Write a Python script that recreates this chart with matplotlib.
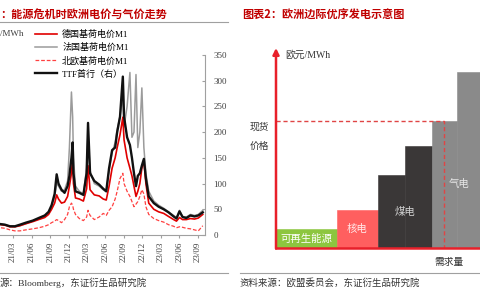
import matplotlib
matplotlib.use('Agg')
import matplotlib.pyplot as plt
import matplotlib.dates as mdates
import numpy as np
import pandas as pd

plt.rcParams['font.family'] = ['Liberation Serif', 'Noto Sans CJK SC']
CJK = ['Noto Sans CJK SC']

# ---- left panel: power and gas prices (EUR/MWh) ----
dates = pd.to_datetime([
    '2021-01-01', '2021-01-21', '2021-02-14', '2021-03-11', '2021-04-04', '2021-05-04', '2021-06-07', '2021-07-06', '2021-08-05', '2021-08-24',
    '2021-09-08', '2021-09-23', '2021-10-03', '2021-10-12', '2021-10-27', '2021-11-11', '2021-11-26', '2021-12-05', '2021-12-15', '2021-12-21',
    '2021-12-25', '2022-01-04', '2022-01-23', '2022-02-12', '2022-02-28', '2022-03-07', '2022-03-17', '2022-04-07', '2022-05-01', '2022-05-21',
    '2022-06-05', '2022-06-19', '2022-07-04', '2022-07-19', '2022-07-29', '2022-08-12', '2022-08-26', '2022-09-01', '2022-09-16', '2022-09-30',
    '2022-10-10', '2022-10-20', '2022-10-30', '2022-11-08', '2022-11-18', '2022-11-28', '2022-12-08', '2022-12-18', '2023-01-01', '2023-01-26',
    '2023-02-19', '2023-03-16', '2023-04-09', '2023-05-04', '2023-05-18', '2023-06-02', '2023-06-17', '2023-07-06', '2023-07-26', '2023-08-15',
    '2023-09-03', '2023-09-25'])

# TTF front month, right axis
ttf = [21, 20, 17, 17, 20, 24, 28, 33, 38, 45,
       58, 80, 118, 100, 88, 82, 95, 115, 150, 180,
       120, 85, 82, 78, 120, 218, 120, 105, 98, 90,
       85, 130, 165, 170, 200, 230, 308, 230, 190, 175,
       150, 120, 95, 115, 120, 135, 148, 110, 75, 62,
       55, 50, 44, 36, 32, 46, 35, 33, 38, 36,
       38, 44]

# base load M1, left axis
de_base = [80, 76, 64, 64, 72, 88, 104, 120, 136, 160,
           200, 248, 312, 280, 248, 256, 300, 380, 480, 600,
           400, 288, 280, 264, 360, 540, 352, 312, 304, 280,
           272, 380, 520, 600, 680, 780, 916, 740, 600, 520,
           460, 380, 300, 340, 400, 520, 580, 400, 248, 200,
           180, 168, 144, 120, 108, 136, 120, 120, 128, 124,
           132, 160]
fr_base = [88, 80, 68, 64, 72, 88, 108, 124, 144, 172,
           220, 300, 400, 380, 340, 352, 420, 680, 1112, 920,
           600, 380, 340, 320, 520, 800, 500, 400, 380, 352,
           336, 500, 640, 720, 820, 920, 1080, 840, 1000, 1264,
           760, 800, 1248, 680, 800, 1144, 680, 480, 340, 264,
           232, 208, 180, 152, 136, 192, 144, 140, 160, 152,
           160, 192]
nordic_base = [56, 52, 40, 32, 32, 40, 48, 56, 68, 80,
               96, 108, 120, 112, 96, 120, 160, 220, 248, 232,
               200, 160, 128, 112, 140, 192, 152, 120, 140, 168,
               152, 192, 220, 280, 340, 440, 480, 400, 340, 300,
               260, 220, 240, 260, 300, 352, 320, 220, 160, 128,
               112, 100, 80, 68, 56, 64, 60, 52, 48, 40,
               32, 72]

legend_labels = ['德国基荷电价M1', '法国基荷电价M1', '北欧基荷电价M1', 'TTF首行（右）']

# ---- right panel: merit order sketch ----
techs = ['可再生能源', '核电', '煤电', '煤电', '气电', '气电']
capacity = [61, 41, 27, 27, 25, 30]
marginal_cost = [19, 38, 73, 102, 127, 176]
demand = 168
spot_price = 127

tech_colors = {'可再生能源': '#8dc63f', '核电': '#ff5f5f', '煤电': '#3a3737', '气电': '#8a8a8a'}
tech_text = {'可再生能源': '#ffffff', '核电': '#ffe8e8', '煤电': '#d0d0d0', '气电': '#e6e6e6'}

W, H = 480, 300


def fx(px):
    return px / W


def fy(py):
    return 1 - py / H


fig = plt.figure(figsize=(4.8, 3.0), dpi=100)

# ---------------- left chart ----------------
ax = fig.add_axes([0, fy(235), 205 / W, 180 / H])
l_fr, = ax.plot(dates, fr_base, color='#9b9b9b', lw=1.1)
l_de, = ax.plot(dates, de_base, color='#e00000', lw=1.2)
l_no, = ax.plot(dates, nordic_base, color='#ff4040', lw=0.9, ls=(0, (3, 1.5)))
ax.set_ylim(0, 1400)
ax.set_xlim(pd.Timestamp('2020-12-27'), pd.Timestamp('2023-10-06'))

axr = ax.twinx()
l_ttf, = axr.plot(dates, ttf, color='#111111', lw=1.7)
axr.set_ylim(0, 350)
axr.set_yticks(range(0, 351, 50))

for a in (ax, axr):
    for s in ('top', 'left'):
        a.spines[s].set_visible(False)
axr.spines['bottom'].set_visible(False)
axr.spines['right'].set_color('#a0a0a0')
ax.spines['right'].set_visible(False)
ax.spines['bottom'].set_color('#a0a0a0')

ax.tick_params(axis='y', left=False, labelleft=False)
ax.xaxis.set_major_locator(mdates.MonthLocator(bymonth=[3, 6, 9, 12]))
ax.xaxis.set_major_formatter(mdates.DateFormatter('%y/%m'))
ax.tick_params(axis='x', rotation=90, labelsize=6.5, length=2, pad=3,
               color='#a0a0a0', labelcolor='#404040')
axr.tick_params(axis='y', direction='in', length=2.5, labelsize=6.5, pad=6,
                color='#a0a0a0', labelcolor='#404040')

fig.legend([l_de, l_fr, l_no, l_ttf], legend_labels, loc='upper left',
           bbox_to_anchor=(fx(35), fy(30)), frameon=False, fontsize=6.5,
           handlelength=2.4, handletextpad=0.6, labelspacing=0.45,
           borderpad=0, borderaxespad=0)
fig.text(0, fy(34), '/MWh', fontsize=6.5, va='center', color='#404040')

# ---------------- right chart ----------------
ax2 = fig.add_axes([fx(276), fy(248), 204 / W, 200 / H])
ax2.set_xlim(0, 204)
ax2.set_ylim(0, 200)
ax2.axis('off')

lefts = np.concatenate([[0], np.cumsum(capacity)[:-1]])
bar_cols = [tech_colors[t] for t in techs]
ax2.bar(lefts, marginal_cost, width=capacity, align='edge',
        color=bar_cols, edgecolor=bar_cols, linewidth=0.4)

for t in dict.fromkeys(techs):
    idx = [i for i, k in enumerate(techs) if k == t]
    x0 = lefts[idx[0]]
    x1 = lefts[idx[-1]] + capacity[idx[-1]]
    y = min(marginal_cost[i] for i in idx) / 2
    ax2.text((x0 + x1) / 2, y, t, ha='center', va='center', fontsize=7.5,
             color=tech_text[t], family=CJK, zorder=6)

red = '#e8202a'
ax2.plot([0, demand, demand], [spot_price, spot_price, 0], color='#e04545',
         lw=1.0, ls=(0, (3, 2)), zorder=3)
ax2.plot([0, 204], [0, 0], color=red, lw=1.8, clip_on=False, zorder=4)
ax2.annotate('', xy=(0, 200), xytext=(0, -0.5), annotation_clip=False,
             arrowprops=dict(arrowstyle='-|>', color=red, lw=1.8,
                             mutation_scale=9, shrinkA=0, shrinkB=0), zorder=5)

ax2.text(9, 193, '欧元/MWh', fontsize=7, va='center', ha='left', color='#333333')
ax2.text(-17, 121, '现货', fontsize=7, va='center', ha='center', color='#333333', family=CJK)
ax2.text(-17, 102, '价格', fontsize=7, va='center', ha='center', color='#333333', family=CJK)
ax2.text(173, -14, '需求量', fontsize=7, va='center', ha='center', color='#333333', family=CJK)

# ---------------- titles, rules, sources ----------------
fig.text(0, fy(14), '：能源危机时欧洲电价与气价走势', color='#c00000', fontsize=8,
         fontweight='bold', va='center', family=CJK)
fig.text(fx(242), fy(14), '图表2：欧洲边际优序发电示意图', color='#c00000', fontsize=8,
         fontweight='bold', va='center', family=CJK)

rule = '#a0a0a0'
fig.add_artist(plt.Line2D([0, fx(228)], [fy(22), fy(22)], color=rule, lw=0.8))
fig.add_artist(plt.Line2D([0, fx(228)], [fy(273), fy(273)], color=rule, lw=0.8))
fig.add_artist(plt.Line2D([fx(240), 1], [fy(273), fy(273)], color=rule, lw=0.8))

fig.text(0, fy(283), '源：Bloomberg，东证衍生品研究院', fontsize=6.8, va='center', color='#333333')
fig.text(fx(240), fy(283), '资料来源：欧盟委员会，东证衍生品研究院', fontsize=6.8, va='center',
         color='#333333')

fig.savefig('out.png', dpi=100)
